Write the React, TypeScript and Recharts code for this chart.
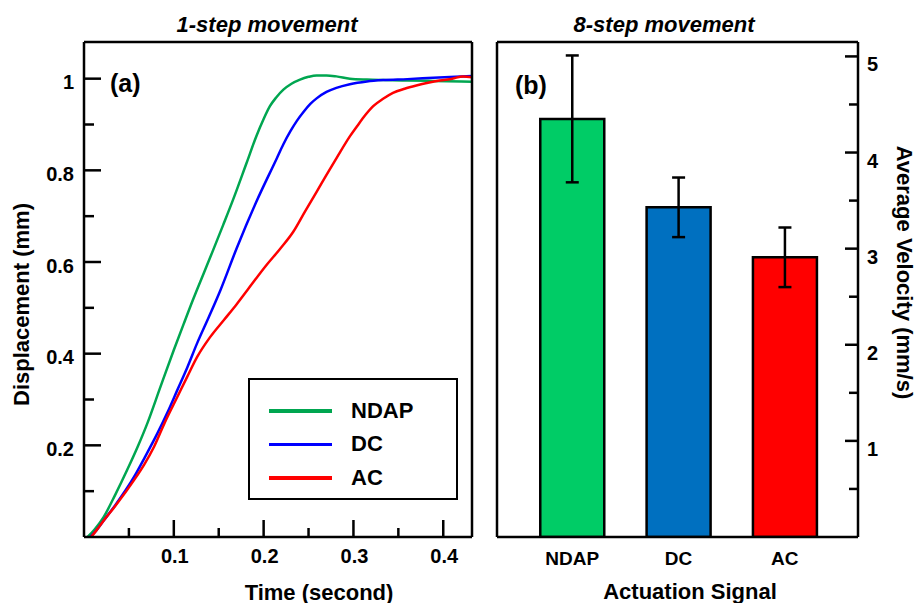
import React from "react";
import { Bar, BarChart, Cell, ErrorBar, Legend, Line, LineChart, XAxis, YAxis } from "recharts";

const FONT = "'Liberation Sans', Arial, Helvetica, sans-serif";

// (a) 1-step movement: displacement (mm) vs time (s)
const ndapCurve = [
  { t: 0.004, d: 0 }, { t: 0.012, d: 0.017 }, { t: 0.022, d: 0.044 }, { t: 0.035, d: 0.093 },
  { t: 0.048, d: 0.146 }, { t: 0.06, d: 0.198 }, { t: 0.0705, d: 0.248 }, { t: 0.085, d: 0.327 },
  { t: 0.1, d: 0.408 }, { t: 0.111, d: 0.465 }, { t: 0.122, d: 0.521 }, { t: 0.133, d: 0.574 },
  { t: 0.144, d: 0.627 }, { t: 0.155, d: 0.681 }, { t: 0.166, d: 0.736 }, { t: 0.181, d: 0.816 },
  { t: 0.192, d: 0.875 }, { t: 0.2, d: 0.912 }, { t: 0.207, d: 0.94 }, { t: 0.214, d: 0.959 },
  { t: 0.222, d: 0.976 }, { t: 0.231, d: 0.989 }, { t: 0.2405, d: 0.998 }, { t: 0.25, d: 1.004 },
  { t: 0.259, d: 1.007 }, { t: 0.27, d: 1.007 }, { t: 0.281, d: 1.005 }, { t: 0.296, d: 1.0 },
  { t: 0.315, d: 0.998 }, { t: 0.333, d: 0.997 }, { t: 0.36, d: 0.996 }, { t: 0.389, d: 0.995 },
  { t: 0.432, d: 0.993 },
];

const dcCurve = [
  { t: 0.007, d: 0 }, { t: 0.014, d: 0.015 }, { t: 0.022, d: 0.036 }, { t: 0.035, d: 0.07 },
  { t: 0.0557, d: 0.131 }, { t: 0.068, d: 0.175 }, { t: 0.0817, d: 0.226 }, { t: 0.093, d: 0.272 },
  { t: 0.104, d: 0.321 }, { t: 0.115, d: 0.37 }, { t: 0.126, d: 0.423 }, { t: 0.139, d: 0.48 },
  { t: 0.152, d: 0.539 }, { t: 0.17, d: 0.63 }, { t: 0.192, d: 0.732 }, { t: 0.2146, d: 0.826 },
  { t: 0.222, d: 0.857 }, { t: 0.23, d: 0.886 }, { t: 0.237, d: 0.908 }, { t: 0.245, d: 0.929 },
  { t: 0.252, d: 0.945 }, { t: 0.259, d: 0.957 }, { t: 0.27, d: 0.971 }, { t: 0.281, d: 0.98 },
  { t: 0.296, d: 0.988 }, { t: 0.315, d: 0.994 }, { t: 0.333, d: 0.997 }, { t: 0.36, d: 0.999 },
  { t: 0.389, d: 1.002 }, { t: 0.432, d: 1.006 },
];

const acCurve = [
  { t: 0.008, d: 0 }, { t: 0.014, d: 0.015 }, { t: 0.022, d: 0.036 }, { t: 0.035, d: 0.068 },
  { t: 0.0557, d: 0.124 }, { t: 0.067, d: 0.158 }, { t: 0.078, d: 0.197 }, { t: 0.09, d: 0.25 },
  { t: 0.104, d: 0.306 }, { t: 0.115, d: 0.35 }, { t: 0.126, d: 0.393 }, { t: 0.14, d: 0.435 },
  { t: 0.156, d: 0.474 }, { t: 0.17, d: 0.508 }, { t: 0.182, d: 0.539 }, { t: 0.203, d: 0.593 },
  { t: 0.218, d: 0.628 }, { t: 0.233, d: 0.666 }, { t: 0.246, d: 0.71 }, { t: 0.259, d: 0.753 },
  { t: 0.27, d: 0.79 }, { t: 0.281, d: 0.826 }, { t: 0.296, d: 0.874 }, { t: 0.304, d: 0.896 },
  { t: 0.313, d: 0.92 }, { t: 0.322, d: 0.94 }, { t: 0.333, d: 0.956 }, { t: 0.344, d: 0.969 },
  { t: 0.357, d: 0.978 }, { t: 0.37, d: 0.985 }, { t: 0.383, d: 0.991 }, { t: 0.396, d: 0.996 },
  { t: 0.41, d: 1.0 }, { t: 0.422, d: 1.005 }, { t: 0.432, d: 1.003 },
];

const timeTicks = [0.05, 0.1, 0.15, 0.2, 0.25, 0.3, 0.35, 0.4];
const timeLabels = ["", "0.1", "", "0.2", "", "0.3", "", "0.4"];
const dispTicks = [0.1, 0.2, 0.3, 0.4, 0.5, 0.6, 0.7, 0.8, 0.9, 1.0];
const dispLabels = ["", "0.2", "", "0.4", "", "0.6", "", "0.8", "", "1"];

// (b) 8-step movement: average velocity (mm/s) with error bars
const signals = ["NDAP", "DC", "AC"];
const avgVelocity = [4.35, 3.43, 2.91];
const velocityErr = [0.66, 0.31, 0.31];
const velocityTicks = [0.5, 1, 1.5, 2, 2.5, 3, 3.5, 4, 4.5, 5];
const velocityLabels = ["", "1", "", "2", "", "3", "", "4", "", "5"];

const lineColors = { NDAP: "#00A650", DC: "#0000FF", AC: "#FF0000" };
const barColors = ["#00CC66", "#0070C0", "#FF0000"];

const barData = signals.map((name, i) => ({ name, v: avgVelocity[i], err: velocityErr[i] }));

const textStyle = { fontFamily: FONT, fontWeight: 700, fill: "#000" };
const AXIS = { stroke: "#000", strokeWidth: 2.5 };

function LeftTick({ x, y, index }: any) {
  const label = dispLabels[index] ?? "";
  const len = label ? 17 : 10;
  return (
    <g>
      <line x1={x} x2={x + len} y1={y} y2={y} stroke="#000" strokeWidth={2.5} />
      {label && (
        <text x={x - 10} y={y + 3.5} textAnchor="end" dominantBaseline="central" fontSize={20} style={textStyle}>
          {label}
        </text>
      )}
    </g>
  );
}

function TimeTick({ x, y, index }: any) {
  const label = timeLabels[index] ?? "";
  const len = label ? 17 : 9;
  return (
    <g>
      <line x1={x} x2={x} y1={y} y2={y - len} stroke="#000" strokeWidth={2.5} />
      {label && (
        <text x={x + 1} y={y + 19} textAnchor="middle" dominantBaseline="central" fontSize={20} style={textStyle}>
          {label}
        </text>
      )}
    </g>
  );
}

function RightTick({ x, y, index }: any) {
  const label = velocityLabels[index] ?? "";
  const len = label ? 13 : 9;
  return (
    <g>
      <line x1={x} x2={x - len} y1={y} y2={y} stroke="#000" strokeWidth={2.5} />
      {label && (
        <text x={x + 9} y={y + 8} textAnchor="start" dominantBaseline="central" fontSize={20} style={textStyle}>
          {label}
        </text>
      )}
    </g>
  );
}

function CategoryTick({ x, y, payload }: any) {
  return (
    <text x={x} y={y + 21} textAnchor="middle" dominantBaseline="central" fontSize={19} style={textStyle}>
      {payload.value}
    </text>
  );
}

function AxisTitle({ viewBox, text, shiftX = 0, shiftY = 0, rot = 0 }: any) {
  const cx = viewBox.x + viewBox.width / 2 + shiftX;
  const cy = viewBox.y + viewBox.height / 2 + shiftY;
  return (
    <g transform={`translate(${cx}, ${cy}) rotate(${rot})`}>
      <text x={0} y={0} textAnchor="middle" dominantBaseline="central" fontSize={22} style={textStyle}>
        {text}
      </text>
    </g>
  );
}

function LegendBox({ payload }: any) {
  const items = signals.map((s) => (payload || []).find((p: any) => p.value === s)).filter(Boolean);
  return (
    <div style={{ border: "2.5px solid #000", boxSizing: "border-box", width: 210, height: 122, padding: "14px 0 0 19px", background: "#fff" }}>
      {items.map((p: any) => (
        <div key={p.value} style={{ display: "flex", alignItems: "center", height: 33.5 }}>
          <span style={{ display: "inline-block", width: 63, height: 3.5, background: p.color, marginRight: 19 }} />
          <span style={{ fontFamily: FONT, fontWeight: 700, fontSize: 22 }}>{p.value}</span>
        </div>
      ))}
    </div>
  );
}

const headStyle: React.CSSProperties = {
  position: "absolute",
  transform: "translate(-50%, -50%)",
  fontFamily: FONT,
  fontWeight: 700,
  whiteSpace: "nowrap",
  lineHeight: 1,
};

export default function App() {
  return (
    <div style={{ position: "absolute", left: 0, top: 0, width: 915, height: 603, background: "#fff" }}>
      <div style={{ ...headStyle, left: 267, top: 25, fontSize: 22, fontStyle: "italic" }}>1-step movement</div>
      <div style={{ ...headStyle, left: 664, top: 25, fontSize: 22, fontStyle: "italic" }}>8-step movement</div>

      <div style={{ position: "absolute", left: 0, top: 0 }}>
        <LineChart width={480} height={603} margin={{ top: 41, right: 7, bottom: 36, left: 14 }}>
          <XAxis
            dataKey="t"
            type="number"
            domain={[0, 0.432]}
            allowDataOverflow
            ticks={timeTicks}
            interval={0}
            height={30}
            tickSize={0}
            tickMargin={0}
            tickLine={false}
            axisLine={AXIS}
            tick={<TimeTick />}
            label={<AxisTitle text="Time (second)" shiftX={41} shiftY={40} />}
          />
          <XAxis xAxisId="top" orientation="top" dataKey="t" type="number" domain={[0, 0.432]} allowDataOverflow height={1} tick={false} tickLine={false} axisLine={AXIS} />
          <YAxis
            type="number"
            domain={[0, 1.08]}
            allowDataOverflow
            ticks={dispTicks}
            interval={0}
            width={70}
            tickSize={0}
            tickMargin={0}
            tickLine={false}
            axisLine={AXIS}
            tick={<LeftTick />}
            label={<AxisTitle text="Displacement (mm)" rot={-90} shiftX={-28} shiftY={15} />}
          />
          <YAxis yAxisId="right" orientation="right" type="number" domain={[0, 1.08]} allowDataOverflow width={1} tick={false} tickLine={false} axisLine={AXIS} />
          <Legend
            layout="vertical"
            align="center"
            verticalAlign="middle"
            content={<LegendBox />}
            wrapperStyle={{ left: 248, top: 378, width: 210, height: 122 }}
          />
          <Line name="NDAP" data={ndapCurve} dataKey="d" type="monotone" stroke={lineColors.NDAP} strokeWidth={2.5} dot={false} isAnimationActive={false} />
          <Line name="DC" data={dcCurve} dataKey="d" type="monotone" stroke={lineColors.DC} strokeWidth={2.5} dot={false} isAnimationActive={false} />
          <Line name="AC" data={acCurve} dataKey="d" type="monotone" stroke={lineColors.AC} strokeWidth={2.5} dot={false} isAnimationActive={false} />
        </LineChart>
      </div>
      <div style={{ ...headStyle, transform: "none", left: 110, top: 71, fontSize: 25 }}>(a)</div>

      <div style={{ position: "absolute", left: 480, top: 0 }}>
        <BarChart width={435} height={603} data={barData} margin={{ top: 41, right: 17, bottom: 36, left: 16 }} barCategoryGap="20%">
          <XAxis
            dataKey="name"
            height={30}
            padding={{ left: 22, right: 20 }}
            tickSize={0}
            tickMargin={0}
            tickLine={false}
            axisLine={AXIS}
            tick={<CategoryTick />}
            label={<AxisTitle text="Actuation Signal" shiftX={12.5} shiftY={39} />}
          />
          <XAxis xAxisId="top" orientation="top" dataKey="name" height={1} tick={false} tickLine={false} axisLine={AXIS} />
          <YAxis
            orientation="right"
            type="number"
            domain={[0, 5.15]}
            allowDataOverflow
            ticks={velocityTicks}
            interval={0}
            width={40}
            tickSize={0}
            tickMargin={0}
            tickLine={false}
            axisLine={AXIS}
            tick={<RightTick />}
            label={<AxisTitle text="Average Velocity (mm/s)" rot={90} shiftX={26} shiftY={-17} />}
          />
          <YAxis yAxisId="left" orientation="left" type="number" domain={[0, 5.15]} allowDataOverflow width={1} tick={false} tickLine={false} axisLine={AXIS} />
          <Bar dataKey="v" stroke="#000" strokeWidth={2.5} isAnimationActive={false}>
            {barData.map((d, i) => (
              <Cell key={d.name} fill={barColors[i]} />
            ))}
            <ErrorBar dataKey="err" width={6.5} stroke="#000" strokeWidth={2.5} />
          </Bar>
        </BarChart>
      </div>
      <div style={{ ...headStyle, transform: "none", left: 515, top: 73, fontSize: 25 }}>(b)</div>
    </div>
  );
}
